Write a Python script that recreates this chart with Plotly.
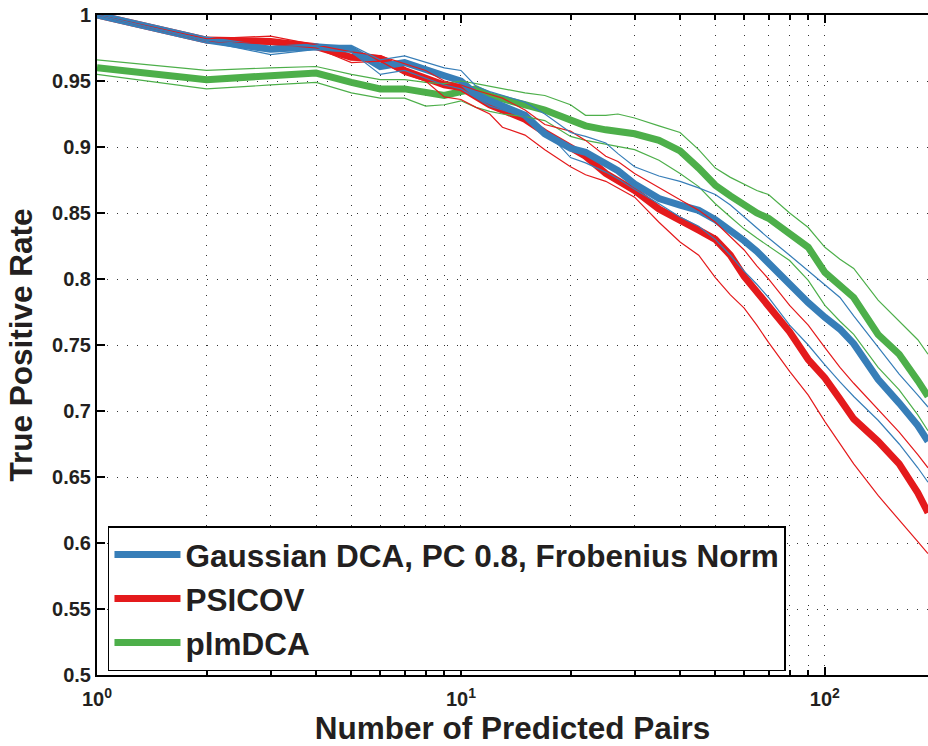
import plotly.graph_objects as go
import math

n_pairs = [1, 2, 3, 4, 5, 6, 7, 8, 9, 10, 11, 12, 13, 15, 17, 20, 22, 25, 27, 30,
           35, 40, 45, 50, 55, 60, 65, 70, 80, 90, 100, 110, 120, 140, 160, 180, 192]

gauss_mean = [1.000, 0.981, 0.974, 0.976, 0.974, 0.961, 0.964, 0.958, 0.954, 0.950,
              0.940, 0.935, 0.931, 0.924, 0.910, 0.899, 0.896, 0.888, 0.882, 0.872,
              0.861, 0.856, 0.852, 0.845, 0.837, 0.829, 0.821, 0.812, 0.795, 0.782,
              0.771, 0.762, 0.751, 0.724, 0.706, 0.689, 0.677]
gauss_upper = [1.000, 0.981, 0.976, 0.977, 0.977, 0.966, 0.969, 0.964, 0.960, 0.958,
               0.946, 0.942, 0.939, 0.934, 0.925, 0.911, 0.908, 0.903, 0.895, 0.885,
               0.878, 0.874, 0.869, 0.864, 0.856, 0.847, 0.839, 0.831, 0.818, 0.806,
               0.796, 0.786, 0.772, 0.748, 0.728, 0.712, 0.703]
gauss_lower = [1.000, 0.980, 0.970, 0.974, 0.972, 0.955, 0.958, 0.952, 0.947, 0.944,
               0.937, 0.931, 0.928, 0.923, 0.913, 0.892, 0.888, 0.881, 0.876, 0.868,
               0.857, 0.847, 0.840, 0.830, 0.818, 0.806, 0.796, 0.786, 0.765, 0.750,
               0.735, 0.722, 0.711, 0.693, 0.675, 0.657, 0.646]

psicov_mean = [1.000, 0.981, 0.980, 0.976, 0.968, 0.967, 0.958, 0.952, 0.947, 0.945,
               0.938, 0.932, 0.928, 0.921, 0.911, 0.899, 0.893, 0.880, 0.874, 0.867,
               0.853, 0.845, 0.837, 0.830, 0.818, 0.802, 0.790, 0.778, 0.760, 0.739,
               0.725, 0.709, 0.694, 0.677, 0.660, 0.638, 0.623]
psicov_upper = [1.000, 0.982, 0.984, 0.977, 0.972, 0.969, 0.963, 0.958, 0.950, 0.947,
                0.943, 0.940, 0.937, 0.928, 0.917, 0.912, 0.905, 0.893, 0.889, 0.880,
                0.869, 0.860, 0.852, 0.843, 0.832, 0.822, 0.810, 0.800, 0.780, 0.765,
                0.748, 0.733, 0.721, 0.701, 0.684, 0.667, 0.657]
psicov_lower = [1.000, 0.980, 0.978, 0.975, 0.964, 0.965, 0.955, 0.950, 0.938, 0.936,
                0.930, 0.925, 0.915, 0.909, 0.898, 0.885, 0.879, 0.874, 0.869, 0.862,
                0.843, 0.828, 0.818, 0.801, 0.788, 0.778, 0.765, 0.752, 0.730, 0.712,
                0.692, 0.675, 0.660, 0.636, 0.617, 0.601, 0.592]

plm_mean = [0.960, 0.951, 0.954, 0.956, 0.949, 0.944, 0.944, 0.941, 0.939, 0.942,
            0.944, 0.939, 0.936, 0.932, 0.928, 0.920, 0.916, 0.913, 0.912, 0.910,
            0.905, 0.897, 0.884, 0.871, 0.863, 0.856, 0.850, 0.846, 0.835, 0.824,
            0.805, 0.795, 0.786, 0.758, 0.743, 0.723, 0.711]
plm_upper = [0.966, 0.958, 0.960, 0.961, 0.955, 0.951, 0.951, 0.949, 0.948, 0.950,
             0.948, 0.946, 0.944, 0.941, 0.939, 0.932, 0.924, 0.924, 0.925, 0.922,
             0.916, 0.911, 0.898, 0.884, 0.877, 0.872, 0.867, 0.864, 0.850, 0.839,
             0.824, 0.815, 0.808, 0.784, 0.768, 0.754, 0.743]
plm_lower = [0.955, 0.944, 0.947, 0.949, 0.941, 0.937, 0.937, 0.931, 0.932, 0.935,
             0.930, 0.927, 0.925, 0.923, 0.920, 0.908, 0.905, 0.902, 0.900, 0.898,
             0.890, 0.880, 0.870, 0.857, 0.847, 0.838, 0.831, 0.825, 0.814, 0.799,
             0.780, 0.768, 0.758, 0.733, 0.716, 0.697, 0.685]

names = ["Gaussian DCA, PC 0.8, Frobenius Norm", "PSICOV", "plmDCA"]
colors = ["#377EB8", "#E41A1C", "#4DAF4A"]

y_ticks = [0.5, 0.55, 0.6, 0.65, 0.7, 0.75, 0.8, 0.85, 0.9, 0.95, 1.0]
y_ticktext = ["0.5", "0.55", "0.6", "0.65", "0.7", "0.75", "0.8", "0.85", "0.9", "0.95", "1"]
x_major = [1, 10, 100]
x_major_text = ["10<sup>0</sup>", "10<sup>1</sup>", "10<sup>2</sup>"]
x_minor = [2, 3, 4, 5, 6, 7, 8, 9, 20, 30, 40, 50, 60, 70, 80, 90]

FONT = "Liberation Sans"
TXT = "#231f20"
GRID = "#333333"
DOTS = "1px,9px"

fig = go.Figure()

series = [
    (names[2], colors[2], plm_mean, plm_upper, plm_lower, 3),
    (names[1], colors[1], psicov_mean, psicov_upper, psicov_lower, 2),
    (names[0], colors[0], gauss_mean, gauss_upper, gauss_lower, 1),
]

for name, color, mean, up, lo, rank in series:
    fig.add_trace(go.Scatter(x=n_pairs, y=mean, mode="lines", name=name,
                             legendrank=rank,
                             line=dict(color=color, width=7)))
for name, color, mean, up, lo, rank in series:
    for band in (up, lo):
        fig.add_trace(go.Scatter(x=n_pairs, y=band, mode="lines", showlegend=False,
                                 hoverinfo="skip",
                                 line=dict(color=color, width=1.2)))

fig.update_layout(
    width=928, height=746,
    margin=dict(l=97, r=0, t=15, b=71),
    plot_bgcolor="white", paper_bgcolor="white",
    font=dict(family=FONT, color=TXT),
    showlegend=True,
    legend=dict(
        x=0.0132, y=0.006, xanchor="left", yanchor="bottom",
        traceorder="normal",
        bgcolor="white", bordercolor="black", borderwidth=1.5,
        font=dict(family=FONT, size=31.5, color=TXT, weight="bold"),
        itemwidth=66,
    ),
    xaxis=dict(
        type="log", range=[0, math.log10(192)],
        tickvals=x_major, ticktext=x_major_text,
        ticks="inside", ticklen=8, tickwidth=1.5, tickcolor="black",
        showline=True, linewidth=2, linecolor="black", mirror="ticks",
        showgrid=True, gridcolor=GRID, gridwidth=1, griddash=DOTS,
        tickfont=dict(family=FONT, size=20, weight="bold", color=TXT),
        ticklabelstandoff=5,
        minor=dict(tickvals=x_minor, ticks="inside", ticklen=5, tickcolor="black",
                   showgrid=True, gridcolor=GRID, gridwidth=1, griddash=DOTS),
        title=dict(text="Number of Predicted Pairs", standoff=6,
                   font=dict(family=FONT, size=31.5, weight="bold", color=TXT)),
        zeroline=False,
    ),
    yaxis=dict(
        range=[0.5, 1.0],
        tickvals=y_ticks, ticktext=y_ticktext,
        ticks="inside", ticklen=8, tickwidth=1.5, tickcolor="black",
        showline=True, linewidth=2, linecolor="black", mirror=False,
        showgrid=True, gridcolor=GRID, gridwidth=1, griddash=DOTS,
        tickfont=dict(family=FONT, size=20, weight="bold", color=TXT),
        title=dict(text="True Positive Rate", standoff=10,
                   font=dict(family=FONT, size=31.5, weight="bold", color=TXT)),
        zeroline=False,
    ),
)

fig.write_html("out.html",
               config={"displayModeBar": False},
               post_script="document.body.style.margin='0';document.body.style.overflow='hidden';")
